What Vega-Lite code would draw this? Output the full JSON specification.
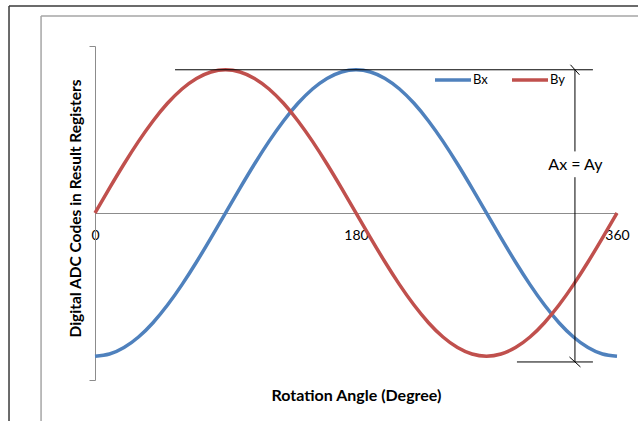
{
  "$schema": "https://vega.github.io/schema/vega-lite/v6.json",
  "width": 522,
  "height": 334,
  "autosize": {"type": "none"},
  "padding": {"left": 95, "top": 46, "right": 21, "bottom": 41},
  "background": "white",
  "config": {"view": {"stroke": null}, "font": "Lato"},
  "datasets": {
    "curves": [
      {"angle": 0, "Bx": -1, "By": 0},
      {"angle": 10, "Bx": -0.9848, "By": 0.1736},
      {"angle": 20, "Bx": -0.9397, "By": 0.342},
      {"angle": 30, "Bx": -0.866, "By": 0.5},
      {"angle": 40, "Bx": -0.766, "By": 0.6428},
      {"angle": 50, "Bx": -0.6428, "By": 0.766},
      {"angle": 60, "Bx": -0.5, "By": 0.866},
      {"angle": 70, "Bx": -0.342, "By": 0.9397},
      {"angle": 80, "Bx": -0.1736, "By": 0.9848},
      {"angle": 90, "Bx": 0, "By": 1},
      {"angle": 100, "Bx": 0.1736, "By": 0.9848},
      {"angle": 110, "Bx": 0.342, "By": 0.9397},
      {"angle": 120, "Bx": 0.5, "By": 0.866},
      {"angle": 130, "Bx": 0.6428, "By": 0.766},
      {"angle": 140, "Bx": 0.766, "By": 0.6428},
      {"angle": 150, "Bx": 0.866, "By": 0.5},
      {"angle": 160, "Bx": 0.9397, "By": 0.342},
      {"angle": 170, "Bx": 0.9848, "By": 0.1736},
      {"angle": 180, "Bx": 1, "By": 0},
      {"angle": 190, "Bx": 0.9848, "By": -0.1736},
      {"angle": 200, "Bx": 0.9397, "By": -0.342},
      {"angle": 210, "Bx": 0.866, "By": -0.5},
      {"angle": 220, "Bx": 0.766, "By": -0.6428},
      {"angle": 230, "Bx": 0.6428, "By": -0.766},
      {"angle": 240, "Bx": 0.5, "By": -0.866},
      {"angle": 250, "Bx": 0.342, "By": -0.9397},
      {"angle": 260, "Bx": 0.1736, "By": -0.9848},
      {"angle": 270, "Bx": 0, "By": -1},
      {"angle": 280, "Bx": -0.1736, "By": -0.9848},
      {"angle": 290, "Bx": -0.342, "By": -0.9397},
      {"angle": 300, "Bx": -0.5, "By": -0.866},
      {"angle": 310, "Bx": -0.6428, "By": -0.766},
      {"angle": 320, "Bx": -0.766, "By": -0.6428},
      {"angle": 330, "Bx": -0.866, "By": -0.5},
      {"angle": 340, "Bx": -0.9397, "By": -0.342},
      {"angle": 350, "Bx": -0.9848, "By": -0.1736},
      {"angle": 360, "Bx": -1, "By": 0}
    ],
    "frame": [
      {"kind": "outer", "x": -59.3, "x2": 460, "y": 1.445, "y2": 1.445},
      {"kind": "outer", "x": -59.3, "x2": -59.3, "y": 1.445, "y2": -1.6},
      {"kind": "inner", "x": -37.2, "x2": 460, "y": 1.3755, "y2": 1.3755},
      {"kind": "inner", "x": -37.2, "x2": -37.2, "y": 1.3755, "y2": -1.6}
    ],
    "annot": [
      {"x": 55.2, "x2": 343.4, "y": 1, "y2": 1},
      {"x": 291.0, "x2": 343.4, "y": -1.04, "y2": -1.04},
      {"x": 331.0, "x2": 331.0, "y": 1, "y2": 0.43},
      {"x": 331.0, "x2": 331.0, "y": 0.25, "y2": -1.04},
      {"x": 327.9, "x2": 334.1, "y": 1.035, "y2": 0.965},
      {"x": 327.2, "x2": 334.8, "y": -1.005, "y2": -1.075}
    ],
    "label": [
      {"x": 331.3, "y": 0.335, "text": "Ax = Ay"}
    ]
  },
  "layer": [
    {
      "data": {"name": "curves"},
      "transform": [{"fold": ["Bx", "By"], "as": ["series", "value"]}],
      "mark": {"type": "line", "interpolate": "natural", "strokeWidth": 3.5, "clip": false},
      "encoding": {
        "x": {
          "field": "angle", "type": "quantitative",
          "scale": {"domain": [0, 360], "nice": false, "zero": false},
          "title": "Rotation Angle (Degree)",
          "axis": {
            "values": [0, 180, 360],
            "offset": -167,
            "domain": true, "domainColor": "#8c8c8c", "domainWidth": 1,
            "ticks": false,
            "grid": false,
            "labelPadding": 15,
            "labelFont": "Lato", "labelFontSize": 14, "labelColor": "#000",
            "labelFlush": false,
            "titleFont": "Lato", "titleFontSize": 16, "titleFontWeight": "bold", "titleColor": "#000",
            "titlePadding": 145
          }
        },
        "y": {
          "field": "value", "type": "quantitative",
          "scale": {"domain": [-1.166, 1.166], "nice": false, "zero": false},
          "title": "Digital ADC Codes in Result Registers",
          "axis": {
            "values": [-1.166, 1.166],
            "domain": true, "domainColor": "#8c8c8c", "domainWidth": 1,
            "ticks": true, "tickColor": "#8c8c8c", "tickSize": 6,
            "labels": false,
            "grid": false,
            "titleFont": "Lato", "titleFontSize": 15.5, "titleFontWeight": "bold", "titleColor": "#000",
            "titlePadding": 5,
            "titleY": 162
          }
        },
        "color": {
          "field": "series", "type": "nominal",
          "scale": {"domain": ["Bx", "By"], "range": ["#4F81BD", "#C0504D"]},
          "legend": {
            "orient": "none", "legendX": 338, "legendY": 14,
            "direction": "horizontal", "title": null,
            "symbolType": "stroke", "symbolSize": 1296, "symbolStrokeWidth": 3.5,
            "labelFont": "Lato", "labelFontSize": 13, "labelColor": "#000",
            "labelOffset": 0, "columnPadding": 17
          }
        }
      }
    },
    {
      "data": {"name": "frame"},
      "transform": [{"filter": "datum.kind === 'outer'"}],
      "mark": {"type": "rule", "color": "#3a3a3a", "strokeWidth": 1.5, "clip": false},
      "encoding": {
        "x": {"field": "x", "type": "quantitative", "title": "Rotation Angle (Degree)"},
        "x2": {"field": "x2"},
        "y": {"field": "y", "type": "quantitative", "title": "Digital ADC Codes in Result Registers"},
        "y2": {"field": "y2"}
      }
    },
    {
      "data": {"name": "frame"},
      "transform": [{"filter": "datum.kind === 'inner'"}],
      "mark": {"type": "rule", "color": "#a6a6a6", "strokeWidth": 1.5, "clip": false},
      "encoding": {
        "x": {"field": "x", "type": "quantitative", "title": "Rotation Angle (Degree)"},
        "x2": {"field": "x2"},
        "y": {"field": "y", "type": "quantitative", "title": "Digital ADC Codes in Result Registers"},
        "y2": {"field": "y2"}
      }
    },
    {
      "data": {"name": "annot"},
      "mark": {"type": "rule", "color": "#000", "strokeWidth": 1, "clip": false},
      "encoding": {
        "x": {"field": "x", "type": "quantitative", "title": "Rotation Angle (Degree)"},
        "x2": {"field": "x2"},
        "y": {"field": "y", "type": "quantitative", "title": "Digital ADC Codes in Result Registers"},
        "y2": {"field": "y2"}
      }
    },
    {
      "data": {"name": "label"},
      "mark": {"type": "text", "font": "Lato", "fontSize": 16, "color": "#000", "align": "center", "baseline": "middle"},
      "encoding": {
        "x": {"field": "x", "type": "quantitative", "title": "Rotation Angle (Degree)"},
        "y": {"field": "y", "type": "quantitative", "title": "Digital ADC Codes in Result Registers"},
        "text": {"field": "text"}
      }
    }
  ]
}
